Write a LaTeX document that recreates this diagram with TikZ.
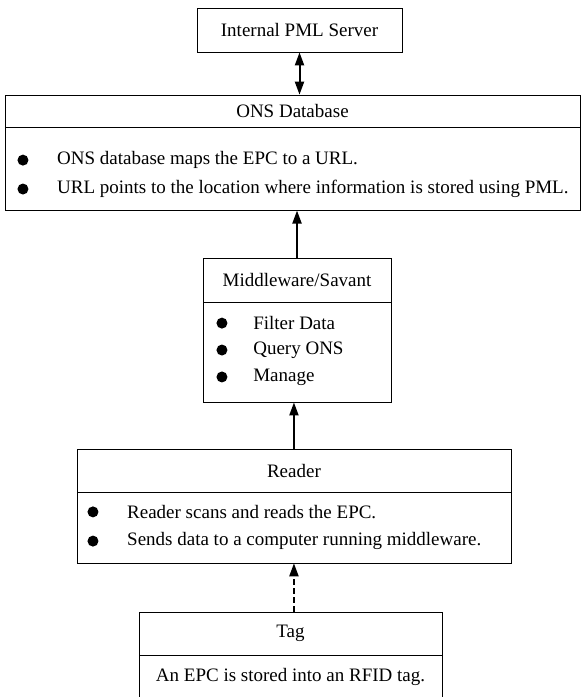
\documentclass[tikz,border=0pt]{standalone}
\usepackage{fontspec}
\setmainfont{Liberation Serif}
\usetikzlibrary{arrows.meta}

\tikzset{
  boxpart/.style={draw, line width=0.8bp, inner sep=0pt},
  txt/.style={anchor=west, inner sep=0pt},
  link/.style={line width=2bp, >={Triangle[length=13bp,width=9bp]}},
}
\newcommand{\dotat}[1]{\fill #1 circle (5.5bp);}

\begin{document}
\begin{tikzpicture}[font=\fontsize{19bp}{23bp}\selectfont]
\useasboundingbox (0,0) rectangle (20.638,24.589);

% PML server
\node[boxpart, minimum width=7.23cm, minimum height=1.55cm] (srv) at (10.566,23.53) {Internal PML Server};

% ONS
\node[boxpart, minimum width=20.28cm, minimum height=1.13cm] (ons) at (10.319,20.67) {ONS Database};
\node[boxpart, minimum width=20.28cm, minimum height=2.93cm] (onsbody) at (10.319,18.64) {};
\dotat{(0.81,18.94)}
\node[txt] (ons1) at (2.01,18.94) {ONS database maps the EPC to a URL.};
\dotat{(0.81,17.92)}
\node[txt] (ons2) at (2.01,17.92) {URL points to the location where information is stored using PML.};

% middleware
\node[boxpart, minimum width=6.63cm, minimum height=1.55cm] (mw) at (10.478,14.71) {Middleware/Savant};
\node[boxpart, minimum width=6.63cm, minimum height=3.53cm] (mwbody) at (10.478,12.17) {};
\dotat{(7.83,13.19)}
\node[txt] (mw1) at (8.93,13.19) {Filter Data};
\dotat{(7.83,12.24)}
\node[txt] (mw2) at (8.93,12.24) {Query ONS};
\dotat{(7.83,11.29)}
\node[txt] (mw3) at (8.93,11.29) {Manage};

% reader
\node[boxpart, minimum width=15.31cm, minimum height=1.52cm] (rd) at (10.37,7.99) {Reader};
\node[boxpart, minimum width=15.31cm, minimum height=2.50cm] (rdbody) at (10.37,5.98) {};
\dotat{(3.28,6.53)}
\node[txt] (rd1) at (4.48,6.53) {Reader scans and reads the EPC.};
\dotat{(3.28,5.50)}
\node[txt] (rd2) at (4.48,5.50) {Sends data to a computer running middleware.};

% tag
\node[boxpart, minimum width=10.69cm, minimum height=1.52cm] (tag) at (10.25,2.24) {Tag};
\node[boxpart, minimum width=10.69cm, minimum height=1.59cm] (tagbody) at (10.25,0.69) {An EPC is stored into an RFID tag.};

% links
\draw[link,<->] (srv.south) -- (srv.south |- ons.north);
\draw[link,->] (mw.north) -- (mw.north |- onsbody.south);
\draw[link,->] (rd.north) -- (rd.north |- mwbody.south);
\draw[link,->,dash pattern=on 6bp off 3bp] (rdbody.south |- tag.north) -- (rdbody.south);

\end{tikzpicture}
\end{document}
